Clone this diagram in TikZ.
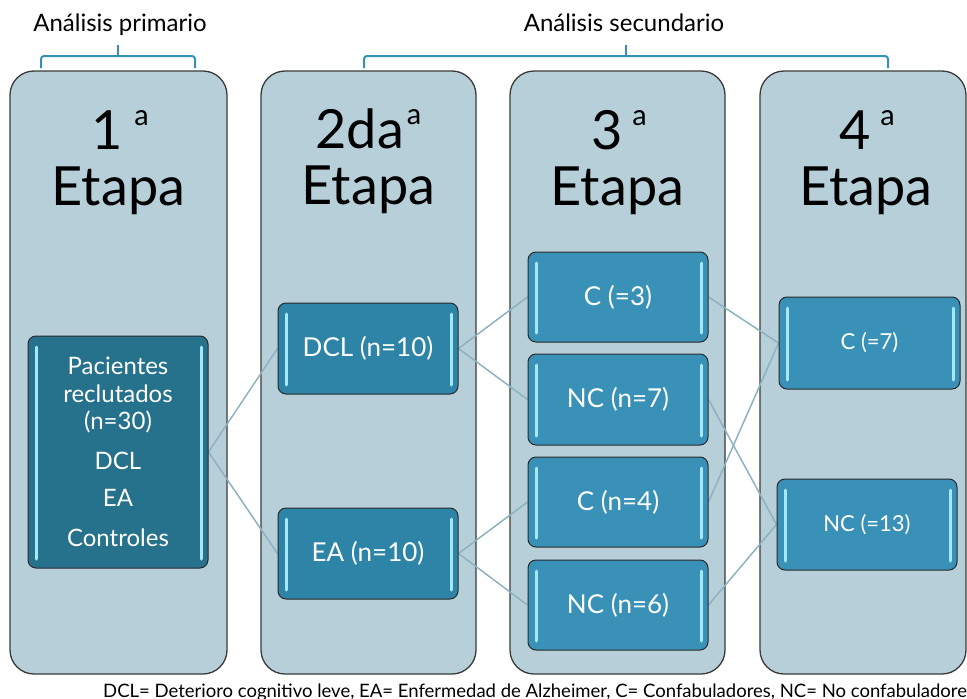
\documentclass[tikz,border=0pt]{standalone}
\usepackage{fontspec}
\setmainfont{Lato}
\usetikzlibrary{calc}
\pgfdeclarelayer{cols}
\pgfdeclarelayer{links}
\pgfsetlayers{cols,links,main}
\definecolor{colfill}{HTML}{B7CFD9}
\definecolor{colborder}{HTML}{3A3A3A}
\definecolor{nodeborder}{HTML}{2A2A2A}
\definecolor{pacfill}{HTML}{26718C}
\definecolor{twofill}{HTML}{2E84A6}
\definecolor{threefill}{HTML}{3A91B7}
\definecolor{hlc}{HTML}{A6E8FA}
\definecolor{linkc}{HTML}{8DB2C2}
\definecolor{bracec}{HTML}{3590B8}
\newcommand{\supa}{\raisebox{24pt}{\fontsize{29}{29}\selectfont a}}
\tikzset{
  x=1pt, y=-1pt,
  colbox/.style={draw=colborder, line width=1.3pt, fill=colfill, rounded corners=24pt, minimum height=603pt, inner sep=0pt},
  nbox/.style={draw=nodeborder, line width=1pt, rounded corners=8pt, minimum width=180pt, minimum height=91pt,
    inner sep=0pt, text=white, align=center, font=\fontsize{26}{30}\selectfont,
    path picture={
      \draw[hlc, line width=3pt, line cap=round]
        ($(path picture bounding box.north west)+(8,11)$) -- ($(path picture bounding box.south west)+(8,-9)$);
      \draw[hlc, line width=3pt, line cap=round]
        ($(path picture bounding box.north east)+(-7,11)$) -- ($(path picture bounding box.south east)+(-7,-9)$);
    }},
  link/.style={draw=linkc, line width=1.5pt},
  bracket/.style={draw=bracec, line width=2pt, rounded corners=3pt},
  ttl/.style={anchor=base, inner sep=0pt, font=\fontsize{54}{54}\selectfont},
  hdr/.style={anchor=base, inner sep=0pt, font=\fontsize{24}{24}\selectfont},
}
\begin{document}
\begin{tikzpicture}
\useasboundingbox (0,0) rectangle (967,699);
% header labels
\node[hdr] (h1) at (120,31) {Análisis primario};
\node[hdr] (h2) at (624,31) {Análisis secundario};
% brackets
\coordinate (b1l) at (41,68); \coordinate (b1r) at (195,68); \coordinate (b1m) at (118,45);
\coordinate (b2l) at (364,68); \coordinate (b2r) at (888,68); \coordinate (b2m) at (626,45);
\draw[bracket] (b1l) -- (41,56) -- (195,56) -- (b1r);
\draw[draw=bracec, line width=2pt] (118,56) -- (b1m);
\draw[bracket] (b2l) -- (364,56) -- (888,56) -- (b2r);
\draw[draw=bracec, line width=2pt] (626,56) -- (b2m);
% columns
\begin{pgfonlayer}{cols}
\node[colbox, minimum width=217pt] (col1) at (118.5,372.5) {};
\node[colbox, minimum width=215pt] (col2) at (368.5,372.5) {};
\node[colbox, minimum width=215pt] (col3) at (617.5,372.5) {};
\node[colbox, minimum width=206pt] (col4) at (863,372.5) {};
\end{pgfonlayer}
% titles
\node[ttl] (t1a) at (120,149) {1\hspace{12pt}\supa};
\node[ttl] (t1b) at (118.5,205) {Etapa};
\node[ttl] (t2a) at (368.5,148) {2da\hspace{3pt}\supa};
\node[ttl] (t2b) at (368.5,204) {Etapa};
\node[ttl] (t3a) at (619,149) {3\hspace{10pt}\supa};
\node[ttl] (t3b) at (617.5,205) {Etapa};
\node[ttl] (t4a) at (867,149) {4\hspace{10pt}\supa};
\node[ttl] (t4b) at (866,205) {Etapa};
% boxes
\node[nbox, fill=pacfill, minimum height=232pt, font=\fontsize{24}{27.5}\selectfont] (pac) at (118,452)
  {Pacientes\\reclutados\\(n=30)\\[12pt]DCL\\[10pt]EA\\[12pt]Controles};
\node[nbox, fill=twofill] (dcl) at (368,348.5) {DCL (n=10)};
\node[nbox, fill=twofill] (ea) at (368,553.5) {EA (n=10)};
\node[nbox, fill=threefill, minimum height=90pt] (c3) at (618,297) {C (=3)};
\node[nbox, fill=threefill] (nc7) at (618,399.5) {NC (n=7)};
\node[nbox, fill=threefill, minimum height=90pt] (c4) at (618,502) {C (n=4)};
\node[nbox, fill=threefill, minimum height=90pt] (nc6) at (618,605) {NC (n=6)};
\node[nbox, fill=threefill, minimum width=181pt, minimum height=92pt, font=\fontsize{22}{26}\selectfont] (c7) at (869.5,343) {C (=7)};
\node[nbox, fill=threefill, font=\fontsize{22}{26}\selectfont] (nc13) at (867,524.5) {NC (=13)};
% connectors (behind boxes)
\begin{pgfonlayer}{links}
\draw[link] (pac.east) -- (dcl.west);
\draw[link] (pac.east) -- (ea.west);
\draw[link] (dcl.east) -- (c3.west);
\draw[link] (dcl.east) -- (nc7.west);
\draw[link] (ea.east) -- (c4.west);
\draw[link] (ea.east) -- (nc6.west);
\draw[link] (c3.east) -- (c7.west);
\draw[link] (c4.east) -- (c7.west);
\draw[link] (nc7.east) -- (nc13.west);
\draw[link] (nc6.east) -- (nc13.west);
\end{pgfonlayer}
% caption
\node[anchor=base west, inner sep=0pt, font=\fontsize{18.5}{18.5}\selectfont] (cap) at (103,697)
  {DCL= Deterioro cognitivo leve, EA= Enfermedad de Alzheimer, C= Confabuladores, NC= No confabuladores};
\end{tikzpicture}
\end{document}
